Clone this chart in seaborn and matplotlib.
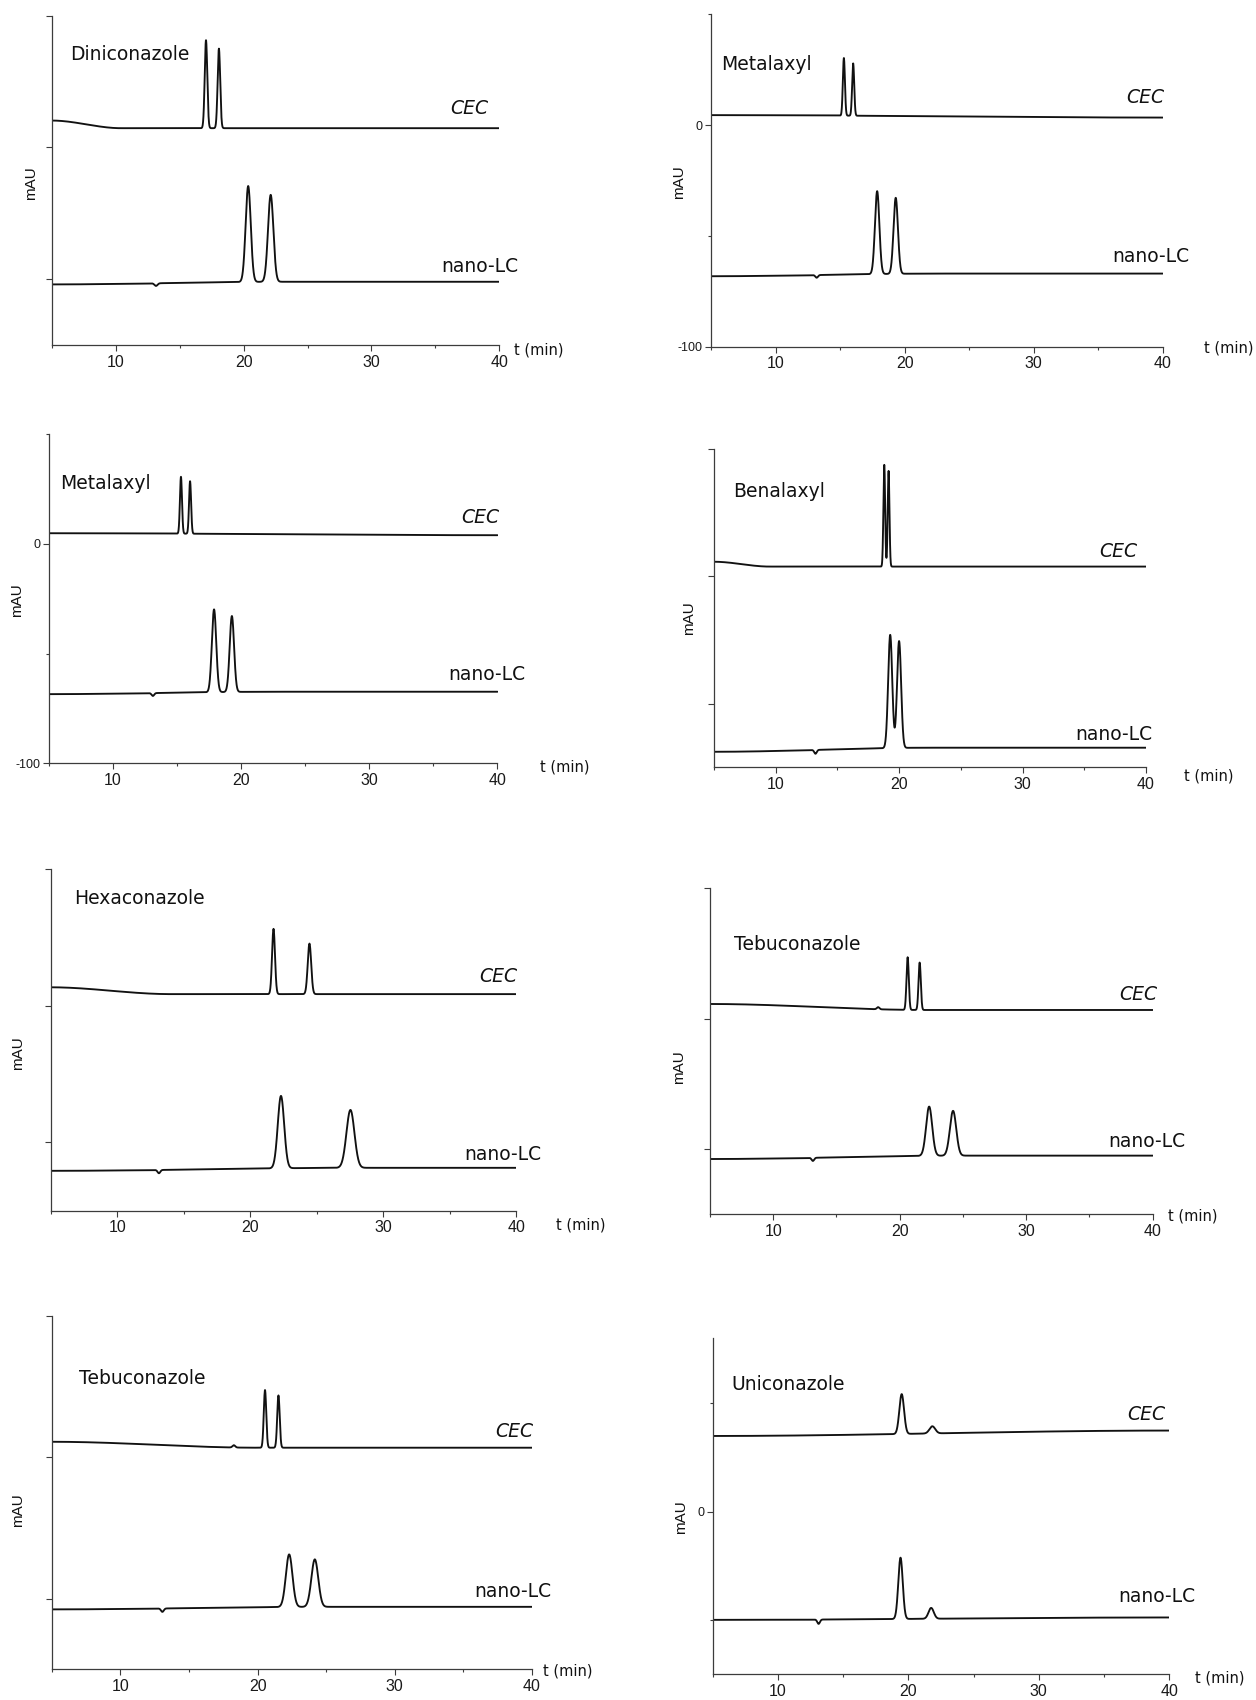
import numpy as np
import pandas as pd
import matplotlib
matplotlib.use("Agg")
import matplotlib.pyplot as plt
from matplotlib.ticker import FixedLocator, NullFormatter
import seaborn as sns

# ---------------- data ----------------
# each trace: baseline (start, end, time where the drift stops) + peak table
# peak table = retention time (min), height (mAU), width sigma (min)

# Diniconazole
dini_cec_base = [60.2, 57.3, 10.4]
dini_cec_rt = [17.06, 18.07]
dini_cec_h = [33.4, 30.2]
dini_cec_sd = [0.10, 0.10]
dini_lc_base = [-2.0, -1.0, 23.0]
dini_lc_rt = [13.15, 20.36, 22.12]
dini_lc_h = [-1.0, 36.4, 33.0]
dini_lc_sd = [0.12, 0.20, 0.21]

# Metalaxyl (top right)
meta1_cec_base = [4.5, 3.4, 40.0]
meta1_cec_rt = [15.28, 16.00]
meta1_cec_h = [26.0, 23.6]
meta1_cec_sd = [0.08, 0.08]
meta1_lc_base = [-68.2, -67.0, 22.6]
meta1_lc_rt = [13.17, 17.86, 19.30]
meta1_lc_h = [-1.2, 37.4, 34.3]
meta1_lc_sd = [0.10, 0.17, 0.17]

# Metalaxyl (second row left)
meta2_cec_base = [4.8, 3.9, 40.0]
meta2_cec_rt = [15.32, 16.03]
meta2_cec_h = [25.9, 23.9]
meta2_cec_sd = [0.08, 0.08]
meta2_lc_base = [-68.5, -67.4, 22.6]
meta2_lc_rt = [13.13, 17.90, 19.29]
meta2_lc_h = [-1.3, 37.7, 34.6]
meta2_lc_sd = [0.10, 0.17, 0.17]

# Benalaxyl
bena_cec_base = [55.8, 53.9, 9.5]
bena_cec_rt = [18.80, 19.15]
bena_cec_h = [40.0, 37.6]
bena_cec_sd = [0.07, 0.07]
bena_lc_base = [-18.9, -17.3, 22.5]
bena_lc_rt = [13.23, 19.28, 20.00]
bena_lc_h = [-1.5, 44.5, 42.0]
bena_lc_sd = [0.10, 0.165, 0.165]

# Hexaconazole
hexa_cec_base = [56.8, 54.3, 14.0]
hexa_cec_rt = [21.75, 24.45]
hexa_cec_h = [23.9, 18.5]
hexa_cec_sd = [0.11, 0.13]
hexa_lc_base = [-10.4, -9.3, 28.0]
hexa_lc_rt = [13.14, 22.31, 27.53]
hexa_lc_h = [-1.2, 26.5, 21.2]
hexa_lc_sd = [0.10, 0.24, 0.30]

# Tebuconazole (third row right)
tebu1_cec_base = [55.6, 53.3, 22.0]
tebu1_cec_rt = [18.30, 20.63, 21.58]
tebu1_cec_h = [0.8, 20.2, 18.2]
tebu1_cec_sd = [0.10, 0.09, 0.09]
tebu1_lc_base = [-3.9, -2.6, 25.0]
tebu1_lc_rt = [13.14, 22.33, 24.22]
tebu1_lc_h = [-1.2, 18.9, 17.2]
tebu1_lc_sd = [0.10, 0.24, 0.25]

# Tebuconazole (bottom left)
tebu2_cec_base = [55.5, 53.4, 20.0]
tebu2_cec_rt = [18.27, 20.54, 21.52]
tebu2_cec_h = [0.8, 20.4, 18.5]
tebu2_cec_sd = [0.10, 0.09, 0.09]
tebu2_lc_base = [-3.8, -2.9, 25.0]
tebu2_lc_rt = [13.06, 22.30, 24.17]
tebu2_lc_h = [-1.2, 18.6, 16.8]
tebu2_lc_sd = [0.10, 0.24, 0.25]

# Uniconazole
unic_cec_base = [34.9, 37.4, 40.0]
unic_cec_rt = [19.49, 21.84]
unic_cec_h = [18.4, 3.3]
unic_cec_sd = [0.18, 0.22]
unic_lc_base = [-50.0, -48.9, 40.0]
unic_lc_rt = [13.12, 19.40, 21.75]
unic_lc_h = [-2.0, 28.3, 5.0]
unic_lc_sd = [0.10, 0.17, 0.20]

compounds = ["Diniconazole", "Metalaxyl", "Metalaxyl", "Benalaxyl",
             "Hexaconazole", "Tebuconazole", "Tebuconazole", "Uniconazole"]

x_major = [10, 20, 30, 40]
x_minor = [5, 15, 25, 35]

T0, T1 = 5, 40


def trace(t, base, rt, h, sd):
    b0, b1, td = base
    s = np.clip((td - t) / (td - T0), 0, 1)
    s = s * s * (3 - 2 * s)
    y = b1 + (b0 - b1) * s
    for r, a, w in zip(rt, h, sd):
        y = y + a * np.exp(-0.5 * ((t - r) / w) ** 2)
    return y


t = np.linspace(T0, T1, 3501)

traces = [
    (dini_cec_base, dini_cec_rt, dini_cec_h, dini_cec_sd, dini_lc_base, dini_lc_rt, dini_lc_h, dini_lc_sd),
    (meta1_cec_base, meta1_cec_rt, meta1_cec_h, meta1_cec_sd, meta1_lc_base, meta1_lc_rt, meta1_lc_h, meta1_lc_sd),
    (meta2_cec_base, meta2_cec_rt, meta2_cec_h, meta2_cec_sd, meta2_lc_base, meta2_lc_rt, meta2_lc_h, meta2_lc_sd),
    (bena_cec_base, bena_cec_rt, bena_cec_h, bena_cec_sd, bena_lc_base, bena_lc_rt, bena_lc_h, bena_lc_sd),
    (hexa_cec_base, hexa_cec_rt, hexa_cec_h, hexa_cec_sd, hexa_lc_base, hexa_lc_rt, hexa_lc_h, hexa_lc_sd),
    (tebu1_cec_base, tebu1_cec_rt, tebu1_cec_h, tebu1_cec_sd, tebu1_lc_base, tebu1_lc_rt, tebu1_lc_h, tebu1_lc_sd),
    (tebu2_cec_base, tebu2_cec_rt, tebu2_cec_h, tebu2_cec_sd, tebu2_lc_base, tebu2_lc_rt, tebu2_lc_h, tebu2_lc_sd),
    (unic_cec_base, unic_cec_rt, unic_cec_h, unic_cec_sd, unic_lc_base, unic_lc_rt, unic_lc_h, unic_lc_sd),
]

# y axis setup per panel: limits, major ticks (labelled only where shown), minor ticks
y_scale_plain = dict(ylim=(-25, 100), major=[0, 50, 100], labels=False, minor=[])
y_scale_meta = dict(ylim=(-100, 50), major=[-100, 0], labels=True, minor=[-50, 50])
y_scale_unic = dict(ylim=(-75, 80), major=[0], labels=True, minor=[-50, 50])
y_scales = [y_scale_plain, y_scale_meta, y_scale_meta, y_scale_plain,
            y_scale_plain, y_scale_plain, y_scale_plain, y_scale_unic]

# ---------------- layout (pixels in a 1256 x 1700 canvas) ----------------
W, H = 1256, 1700
boxes = [(51.8, 15.7, 499.3, 345.0), (711.3, 14.3, 1162.7, 346.7),
         (48.6, 434.0, 497.5, 763.3), (713.9, 449.3, 1146.0, 767.3),
         (50.6, 869.3, 516.4, 1210.7), (709.9, 888.3, 1152.7, 1214.0),
         (51.8, 1316.0, 532.0, 1669.3), (712.7, 1338.3, 1169.2, 1674.0)]
name_pos = [(70, 54), (721.4, 64.3), (60.5, 483.3), (733.1, 491.7),
            (73.9, 898.3), (733.5, 944), (79.3, 1378.3), (731.2, 1385)]
cec_pos = [(450.7, 108), (1126, 97.3), (461, 517.3), (1099.7, 551.7),
           (479.2, 976.7), (1119.3, 994), (495.5, 1431.7), (1127.2, 1414)]
lc_pos = [(441.7, 266.7), (1112, 256), (448.5, 675), (1075, 735),
          (464.6, 1155), (1108.3, 1141.7), (474, 1591.7), (1118.6, 1596.7)]
tmin_pos = [(514, 350), (1204, 348.3), (539.6, 766.7), (1184, 776),
            (555.5, 1225), (1168.5, 1216), (543, 1671), (1194.8, 1678.3)]
mau_pos = [(31.4, 183), (678.8, 181.7), (17.2, 600), (689, 618.3),
           (17.8, 1053.3), (679.3, 1066.7), (17.9, 1510), (681.3, 1516.7)]

sns.set_style("ticks")
plt.rcParams['font.family'] = ['Liberation Sans', 'DejaVu Sans']
plt.rcParams['axes.unicode_minus'] = False

fig = plt.figure(figsize=(W / 100, H / 100), dpi=100)

label_font = ['DejaVu Sans']
ink = '#111111'
axis_col = '#3c3c3c'

for i in range(8):
    l, tp, r, b = boxes[i]
    ax = fig.add_axes([l / W, 1 - b / H, (r - l) / W, (b - tp) / H])
    cb, crt, ch, csd, lb, lrt, lh, lsd = traces[i]
    df = pd.DataFrame({'t': t,
                       'CEC': trace(t, cb, crt, ch, csd),
                       'nano-LC': trace(t, lb, lrt, lh, lsd)})
    sns.lineplot(data=df, x='t', y='CEC', ax=ax, color=ink, linewidth=1.35, estimator=None)
    sns.lineplot(data=df, x='t', y='nano-LC', ax=ax, color=ink, linewidth=1.35, estimator=None)

    sc = y_scales[i]
    ax.set_xlim(T0, T1)
    ax.set_ylim(*sc['ylim'])
    ax.xaxis.set_major_locator(FixedLocator(x_major))
    ax.xaxis.set_minor_locator(FixedLocator(x_minor))
    ax.yaxis.set_major_locator(FixedLocator(sc['major']))
    ax.yaxis.set_minor_locator(FixedLocator(sc['minor']))
    if not sc['labels']:
        ax.yaxis.set_major_formatter(NullFormatter())
    ax.set_xlabel('')
    ax.set_ylabel('')
    sns.despine(ax=ax)
    for s in ['left', 'bottom']:
        ax.spines[s].set_color(axis_col)
        ax.spines[s].set_linewidth(0.9)
    ax.tick_params(which='major', direction='out', length=4, width=0.8,
                   color=axis_col, pad=3)
    ax.tick_params(which='minor', direction='out', length=2.5, width=0.8,
                   color=axis_col)
    ax.tick_params(axis='x', labelsize=11.5, labelcolor='#1a1a1a')
    ax.tick_params(axis='y', labelsize=9, labelcolor='#1a1a1a', pad=2)
    ax.patch.set_alpha(0)

    def put(pos, txt, **kw):
        fig.text(pos[0] / W, 1 - pos[1] / H, txt, **kw)

    put(name_pos[i], compounds[i], ha='left', va='center', fontsize=13.5,
        family=label_font, color=ink)
    put(cec_pos[i], 'CEC', ha='left', va='center', fontsize=13.5,
        family=label_font, color=ink, style='italic')
    put(lc_pos[i], 'nano-LC', ha='left', va='center', fontsize=13.5,
        family=label_font, color=ink)
    put(tmin_pos[i], 't (min)', ha='left', va='center', fontsize=10.5,
        family=label_font, color=ink)
    put(mau_pos[i], 'mAU', ha='center', va='center', fontsize=11,
        rotation=90, color=ink)

fig.savefig('out.png', dpi=100, facecolor='white')
